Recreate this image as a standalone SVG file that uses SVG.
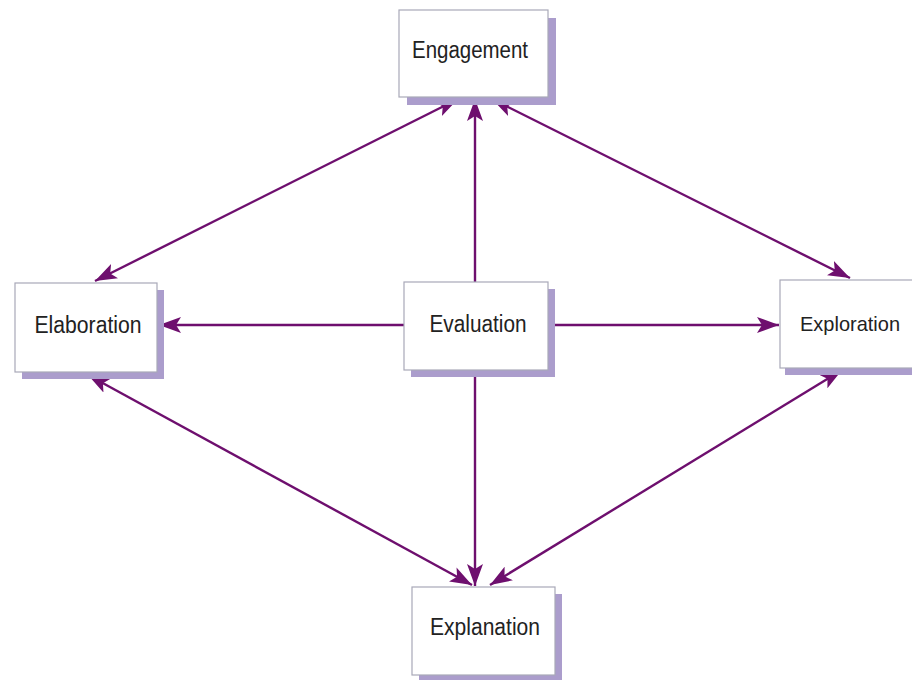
<svg xmlns="http://www.w3.org/2000/svg" width="912" height="680" viewBox="0 0 912 680">
<defs>
<style>
.shadow{fill:#ab9dcc;}
.box{fill:#ffffff;stroke:#a8a8b8;stroke-width:1.2;}
.lbl{font-family:"Liberation Sans",Arial,sans-serif;font-size:23px;fill:#222;text-anchor:middle;}
.conn{stroke:#6e0f6e;stroke-width:2.4;fill:none;}
</style>
<marker id="ah" viewBox="0 0 22 16" refX="22" refY="8" markerWidth="22" markerHeight="16" markerUnits="userSpaceOnUse" orient="auto-start-reverse">
<path d="M0,0 L22,8 L0,16 L5,8 Z" fill="#6e0f6e"/>
</marker>
</defs>
<rect width="912" height="680" fill="#ffffff"/>
<g id="connectors">
<line class="conn" x1="475" y1="282" x2="475" y2="99" marker-end="url(#ah)"/>
<line class="conn" x1="404" y1="325" x2="159" y2="325" marker-end="url(#ah)"/>
<line class="conn" x1="548" y1="325" x2="779" y2="325" marker-end="url(#ah)"/>
<line class="conn" x1="475" y1="370" x2="475" y2="586" marker-end="url(#ah)"/>
<line class="conn" x1="458" y1="99" x2="95" y2="281" marker-start="url(#ah)" marker-end="url(#ah)"/>
<line class="conn" x1="492" y1="99" x2="850" y2="278" marker-start="url(#ah)" marker-end="url(#ah)"/>
<line class="conn" x1="88" y1="375" x2="472" y2="585" marker-start="url(#ah)" marker-end="url(#ah)"/>
<line class="conn" x1="842" y1="370" x2="490" y2="585" marker-start="url(#ah)" marker-end="url(#ah)"/>
</g>
<g id="engagement">
<rect class="shadow" x="407" y="18" width="149" height="87"/>
<rect class="box" x="399" y="10" width="149" height="87"/>
<text class="lbl" x="470" y="58" textLength="116" lengthAdjust="spacingAndGlyphs">Engagement</text>
</g>
<g id="elaboration">
<rect class="shadow" x="22" y="290" width="142" height="89"/>
<rect class="box" x="15" y="283" width="142" height="89"/>
<text class="lbl" x="88" y="333" textLength="107" lengthAdjust="spacingAndGlyphs">Elaboration</text>
</g>
<g id="evaluation">
<rect class="shadow" x="411" y="289" width="144" height="88"/>
<rect class="box" x="404" y="282" width="144" height="88"/>
<text class="lbl" x="478" y="332" textLength="97" lengthAdjust="spacingAndGlyphs">Evaluation</text>
</g>
<g id="exploration">
<rect class="shadow" x="785" y="287" width="140" height="88"/>
<rect class="box" x="780" y="280" width="140" height="88"/>
<text class="lbl" x="850" y="331" style="font-size:21px" textLength="100" lengthAdjust="spacingAndGlyphs">Exploration</text>
</g>
<g id="explanation">
<rect class="shadow" x="419" y="594" width="143" height="88"/>
<rect class="box" x="412" y="587" width="143" height="88"/>
<text class="lbl" x="485" y="635" textLength="110" lengthAdjust="spacingAndGlyphs">Explanation</text>
</g>
</svg>
